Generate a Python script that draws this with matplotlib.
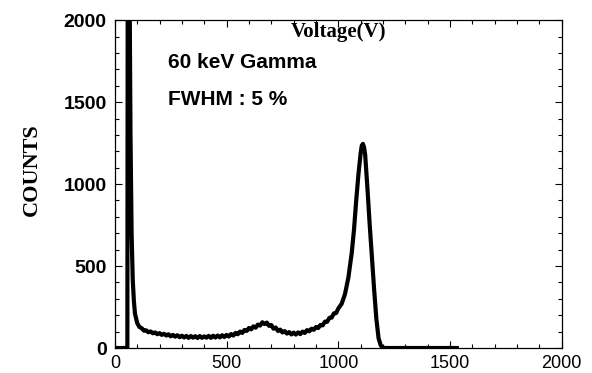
import matplotlib
matplotlib.use("Agg")
import matplotlib.pyplot as plt
from matplotlib.ticker import MultipleLocator

# spectrum (channel -> counts), noisy baseline included
channels = [0, 50, 56, 58, 60, 62, 66, 70, 75, 80, 85, 90,
            100, 110, 120, 130, 140, 150, 160, 170, 180, 190,
            200, 210, 220, 230, 240, 250, 260, 270, 280, 290,
            300, 310, 320, 330, 340, 350, 360, 370, 380, 390,
            400, 410, 420, 430, 440, 450, 460, 470, 480, 490,
            500, 510, 520, 530, 540, 550, 560, 570, 580, 590,
            600, 610, 620, 630, 640, 650, 660, 670, 680, 690,
            700, 710, 720, 730, 740, 750, 760, 770, 780, 790,
            800, 810, 820, 830, 840, 850, 860, 870, 880, 890,
            900, 910, 920, 930, 940, 950, 960, 970, 980, 990,
            1000, 1015, 1030, 1045, 1060, 1070, 1080, 1090, 1100, 1105,
            1110, 1115, 1120, 1130, 1140, 1150, 1160, 1170, 1180, 1190,
            1200, 1210, 1300, 1400, 1530]
counts = [0, 0, 0, 3000, 3000, 3000, 2200, 1300, 700, 420, 290, 210,
          152, 128, 121, 106, 108, 96, 101, 90, 95, 84,
          91, 80, 87, 76, 84, 71, 80, 69, 78, 66,
          75, 64, 74, 62, 73, 63, 72, 61, 73, 62,
          71, 63, 74, 62, 75, 64, 76, 65, 78, 67,
          80, 70, 85, 76, 92, 84, 100, 92, 110, 104,
          122, 114, 132, 124, 143, 137, 157, 146, 155, 135,
          140, 118, 125, 104, 112, 95, 103, 88, 97, 83,
          94, 82, 95, 85, 100, 92, 109, 102, 118, 111,
          128, 122, 141, 138, 161, 160, 184, 185, 211, 213,
          241, 270, 330, 430, 580, 720, 900, 1060, 1190, 1235,
          1245, 1225, 1180, 980, 760, 560, 360, 180, 60, 15,
          3, 0, 0, 0, 0]

x_range = (0, 2000)
y_range = (0, 2000)
x_major = [0, 500, 1000, 1500, 2000]
y_major = [0, 500, 1000, 1500, 2000]

fig = plt.figure(figsize=(5.92, 3.73), dpi=100)
ax = fig.add_axes([0.194, 0.067, 0.755, 0.879])

ax.plot(channels, counts, color="black", lw=3.0, solid_joinstyle="round")

ax.set_xlim(*x_range)
ax.set_ylim(*y_range)
ax.set_xticks(x_major)
ax.set_yticks(y_major)
ax.xaxis.set_minor_locator(MultipleLocator(100))
ax.yaxis.set_minor_locator(MultipleLocator(100))
ax.tick_params(which="both", direction="in", top=True, right=True, width=0.8)
ax.tick_params(which="major", length=5)
ax.tick_params(axis="x", which="major", pad=5)
ax.tick_params(axis="y", which="major", pad=6)
ax.tick_params(which="minor", length=3)
for s in ax.spines.values():
    s.set_linewidth(0.9)

for lab in ax.get_xticklabels():
    lab.set_fontfamily("Liberation Sans")
    lab.set_fontsize(13)
for lab in ax.get_yticklabels():
    lab.set_fontfamily("Liberation Sans")
    lab.set_fontsize(14)
    lab.set_fontweight("bold")

ax.set_ylabel("COUNTS", fontfamily="Liberation Serif", fontweight="bold",
              fontsize=16)
ax.yaxis.set_label_coords(-0.163, 0.543)

ax.text(0.5, 0.965, "Voltage(V)", transform=ax.transAxes, ha="center",
        va="center", fontfamily="Liberation Serif", fontweight="bold",
        fontsize=15)
ax.text(0.118, 0.872, "60 keV Gamma", transform=ax.transAxes, ha="left",
        va="center", fontfamily="Liberation Sans", fontweight="bold",
        fontsize=15)
ax.text(0.118, 0.759, "FWHM : 5 %", transform=ax.transAxes, ha="left",
        va="center", fontfamily="Liberation Sans", fontweight="bold",
        fontsize=15)

fig.savefig("out.png", dpi=100)
